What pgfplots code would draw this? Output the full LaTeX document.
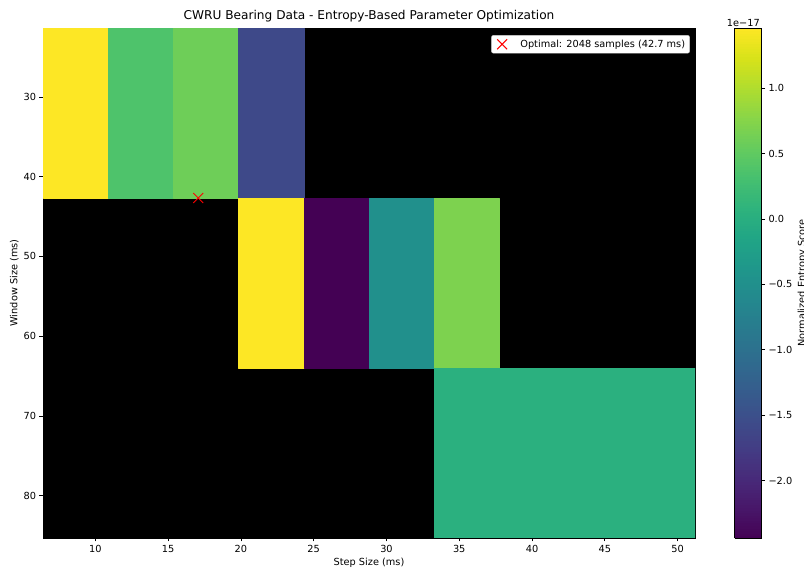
\documentclass[border=0pt]{standalone}
\usepackage{pgfplots}
\pgfplotsset{compat=1.18}
\usepackage{fontspec}
\setmainfont{DejaVu Sans}

% Entropy score per (step, window) cell, in units of 1e-17.
% Each cell is one rectangle: four corners sharing one value.
\pgfplotstableread{
x y c
6.4 21.333 1.46
10.88 21.333 1.46
10.88 42.667 1.46
6.4 42.667 1.46
10.88 21.333 0.37
15.36 21.333 0.37
15.36 42.667 0.37
10.88 42.667 0.37
15.36 21.333 0.60
19.84 21.333 0.60
19.84 42.667 0.60
15.36 42.667 0.60
19.84 21.333 -1.58
24.32 21.333 -1.58
24.32 42.667 -1.58
19.84 42.667 -1.58
19.84 42.667 1.46
24.32 42.667 1.46
24.32 64 1.46
19.84 64 1.46
24.32 42.667 -2.44
28.8 42.667 -2.44
28.8 64 -2.44
24.32 64 -2.44
28.8 42.667 -0.49
33.28 42.667 -0.49
33.28 64 -0.49
28.8 64 -0.49
33.28 42.667 0.70
37.76 42.667 0.70
37.76 64 0.70
33.28 64 0.70
33.28 64 0.03
37.76 64 0.03
37.76 85.333 0.03
33.28 85.333 0.03
37.76 64 0.03
42.24 64 0.03
42.24 85.333 0.03
37.76 85.333 0.03
42.24 64 0.03
46.72 64 0.03
46.72 85.333 0.03
42.24 85.333 0.03
46.72 64 0.03
51.2 64 0.03
51.2 85.333 0.03
46.72 85.333 0.03
}\cells

\begin{document}
\begin{tikzpicture}
\begin{axis}[
  name=main,
  scale only axis, width=652bp, height=510bp,
  xmin=6.4, xmax=51.2, ymin=21.333, ymax=85.333, y dir=reverse,
  axis background/.style={fill=black},
  xtick={10,15,...,50}, ytick={30,40,...,80},
  tick align=outside, tick pos=left, major tick length=3.5bp,
  tick style={black, line width=0.6pt},
  ticklabel style={font=\fontsize{9.8}{11}\selectfont},
  /pgf/number format/assume math mode=true,
  xlabel={Step Size (ms)}, ylabel={Window Size (ms)},
  label style={font=\fontsize{9.8}{11}\selectfont},
  xlabel style={yshift=1bp}, ylabel style={yshift=-2bp},
  title={CWRU Bearing Data - Entropy-Based Parameter Optimization},
  title style={font=\fontsize{12.2}{14}\selectfont, yshift=-4bp},
  colormap/viridis,
  point meta min=-2.44, point meta max=1.46,
  colorbar sampled,
  colorbar style={
    at={(parent axis.north east)}, anchor=north west, xshift=31bp,
    width=27bp, samples=200,
    ytick={-2,-1.5,...,1},
    yticklabels={−2.0,−1.5,−1.0,−0.5,0.0,0.5,1.0},
    ytick pos=right, yticklabel pos=right, tick align=outside,
    major tick length=3.5bp,
    tick style={black, line width=0.6pt},
    ticklabel style={font=\fontsize{9.8}{11}\selectfont},
    ylabel={Normalized Entropy Score},
    every axis y label/.style={at={(axis description cs:1,0.5)},
      xshift=36bp, rotate=90, anchor=north, inner sep=0pt,
      font=\fontsize{9.8}{11}\selectfont},
    title={1e−17},
    every axis title/.style={at={(axis description cs:1,1)},
      anchor=south east, inner sep=1.5pt,
      font=\fontsize{9.8}{11}\selectfont},
  },
  legend style={at={(0.992,0.986)}, anchor=north east,
    font=\fontsize{9.8}{11}\selectfont, draw=black!20, rounded corners=2pt,
    inner sep=2.5pt},
  legend cell align=left,
  legend image code/.code={
    \path (0bp,0bp) (24bp,0bp);
    \draw[mark repeat=2, mark phase=2, #1]
      plot coordinates {(0bp,0bp) (8bp,0bp) (16bp,0bp)};},
]
\addplot[patch, patch type=rectangle, shader=flat corner,
  point meta=explicit, forget plot] table[x=x, y=y, meta=c] {\cells};
\addplot[only marks, mark=x, mark size=7bp, red, mark options={line width=1pt}]
  coordinates {(17.07,42.667)};
\addlegendentry{Optimal: 2048 samples (42.7 ms)}
\end{axis}
\pgfresetboundingbox
\path[use as bounding box]
  ([xshift=-43bp,yshift=-32bp]main.south west) rectangle
  ([xshift=109bp,yshift=28bp]main.north east);
\end{tikzpicture}
\end{document}
